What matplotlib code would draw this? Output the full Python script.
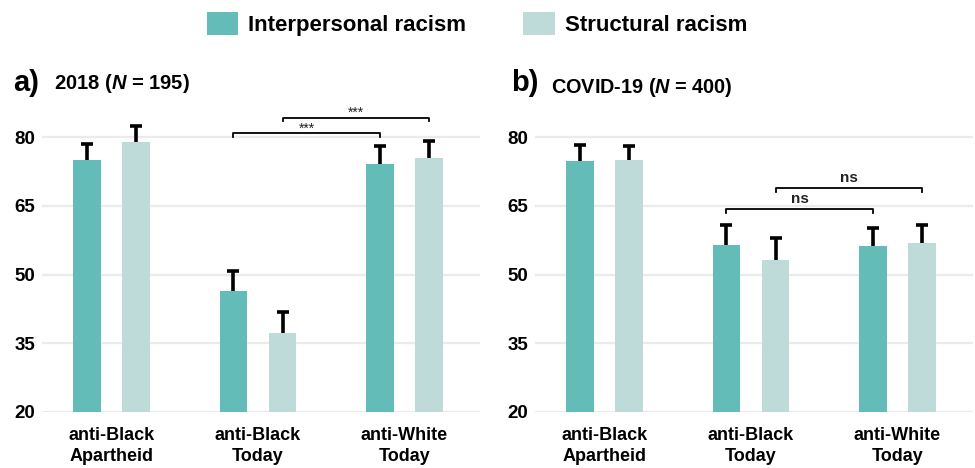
import matplotlib
matplotlib.use("Agg")
import matplotlib.pyplot as plt
from matplotlib.patches import Patch
import numpy as np

plt.rcParams['font.family'] = ['Liberation Sans', 'DejaVu Sans']
plt.rcParams['mathtext.fontset'] = 'custom'
plt.rcParams['mathtext.it'] = 'Liberation Sans:italic:bold'
plt.rcParams['mathtext.rm'] = 'Liberation Sans:bold'

categories = ["anti-Black\nApartheid", "anti-Black\nToday", "anti-White\nToday"]
series = ["Interpersonal racism", "Structural racism"]
colors = ["#63BCB8", "#BFDBD9"]

# 2018 (N = 195)
a_inter = [74.9, 46.4, 74.1]
a_inter_err = [3.5, 4.3, 3.9]
a_struct = [78.9, 37.2, 75.5]
a_struct_err = [3.5, 4.6, 3.7]

# COVID-19 (N = 400)
b_inter = [74.7, 56.5, 56.3]
b_inter_err = [3.5, 4.4, 3.9]
b_struct = [74.9, 53.1, 56.9]
b_struct_err = [3.1, 4.8, 3.9]

yticks = [20, 35, 50, 65, 80]

# significance brackets: (series index, group1, group2, y, label)
a_sig = [(0, 1, 2, 80.85, "***"), (1, 1, 2, 84.25, "***")]
b_sig = [(0, 1, 2, 64.3, "ns"), (1, 1, 2, 68.9, "ns")]

fig = plt.figure(figsize=(9.75, 4.68), dpi=100)
ax_a = fig.add_axes([0.0431, 0.1197, 0.4492, 0.646])
ax_b = fig.add_axes([0.5487, 0.1197, 0.4492, 0.646])

off = 0.168
bw = 0.19

def draw(ax, inter, ierr, struct, serr, sigs):
    x = np.arange(len(categories))
    for vals, errs, c, sgn in [(inter, ierr, colors[0], -1), (struct, serr, colors[1], 1)]:
        xs = x + sgn * off
        ax.errorbar(xs, vals, yerr=errs, fmt='none', ecolor='black',
                    elinewidth=2.6, capsize=4.5, capthick=2.6, zorder=2)
        ax.bar(xs, np.array(vals) - 20, bottom=20, width=bw, color=c, zorder=3)
    for si, g1, g2, y, lab in sigs:
        sgn = -1 if si == 0 else 1
        x1 = g1 + sgn * off
        x2 = g2 + sgn * off
        ax.plot([x1, x1, x2, x2], [y - 0.8, y, y, y - 0.8], color='black',
                lw=1.3, clip_on=False, zorder=4)
        if lab == "ns":
            ax.text((x1 + x2) / 2, y + 1.35, lab, ha='center', va='baseline',
                    fontsize=11, fontweight='bold', color='#222222')
        else:
            ax.text((x1 + x2) / 2, y + 0.1, lab, ha='center', va='baseline',
                    fontsize=10, color='#222222')
    ax.set_ylim(20, 86)
    ax.set_xlim(-0.477, 2.518)
    ax.set_yticks(yticks)
    ax.set_yticklabels([str(t) for t in yticks], fontsize=13.5, fontweight='bold')
    ax.set_xticks(x)
    ax.set_xticklabels(categories, fontsize=13, fontweight='bold', linespacing=1.35)
    ax.tick_params(axis='both', length=0)
    ax.tick_params(axis='y', pad=5)
    ax.tick_params(axis='x', pad=10.5)
    for s in ax.spines.values():
        s.set_visible(False)
    ax.yaxis.grid(True, color='#EBEBEB', lw=1.6, zorder=0)
    ax.set_axisbelow(True)

draw(ax_a, a_inter, a_inter_err, a_struct, a_struct_err, a_sig)
draw(ax_b, b_inter, b_inter_err, b_struct, b_struct_err, b_sig)

fig.text(0.013, 0.822, "a)", fontsize=21, fontweight='bold', va='center', ha='left')
fig.text(0.055, 0.822, r"2018 ($\mathit{N}$ = 195)", fontsize=14.5, fontweight='bold', va='center', ha='left')
fig.text(0.524, 0.822, "b)", fontsize=21, fontweight='bold', va='center', ha='left')
fig.text(0.565, 0.812, r"COVID-19 ($\mathit{N}$ = 400)", fontsize=14.3, fontweight='bold', va='center', ha='left')

handles = [Patch(facecolor=colors[0]), Patch(facecolor=colors[1])]
leg = fig.legend(handles, series, loc='center', bbox_to_anchor=(0.489, 0.949),
                 ncol=2, frameon=False, handlelength=1.4, handleheight=1.27,
                 handletextpad=0.45, columnspacing=2.6,
                 prop={'weight': 'bold', 'size': 16})

fig.savefig("out.png", dpi=100)
